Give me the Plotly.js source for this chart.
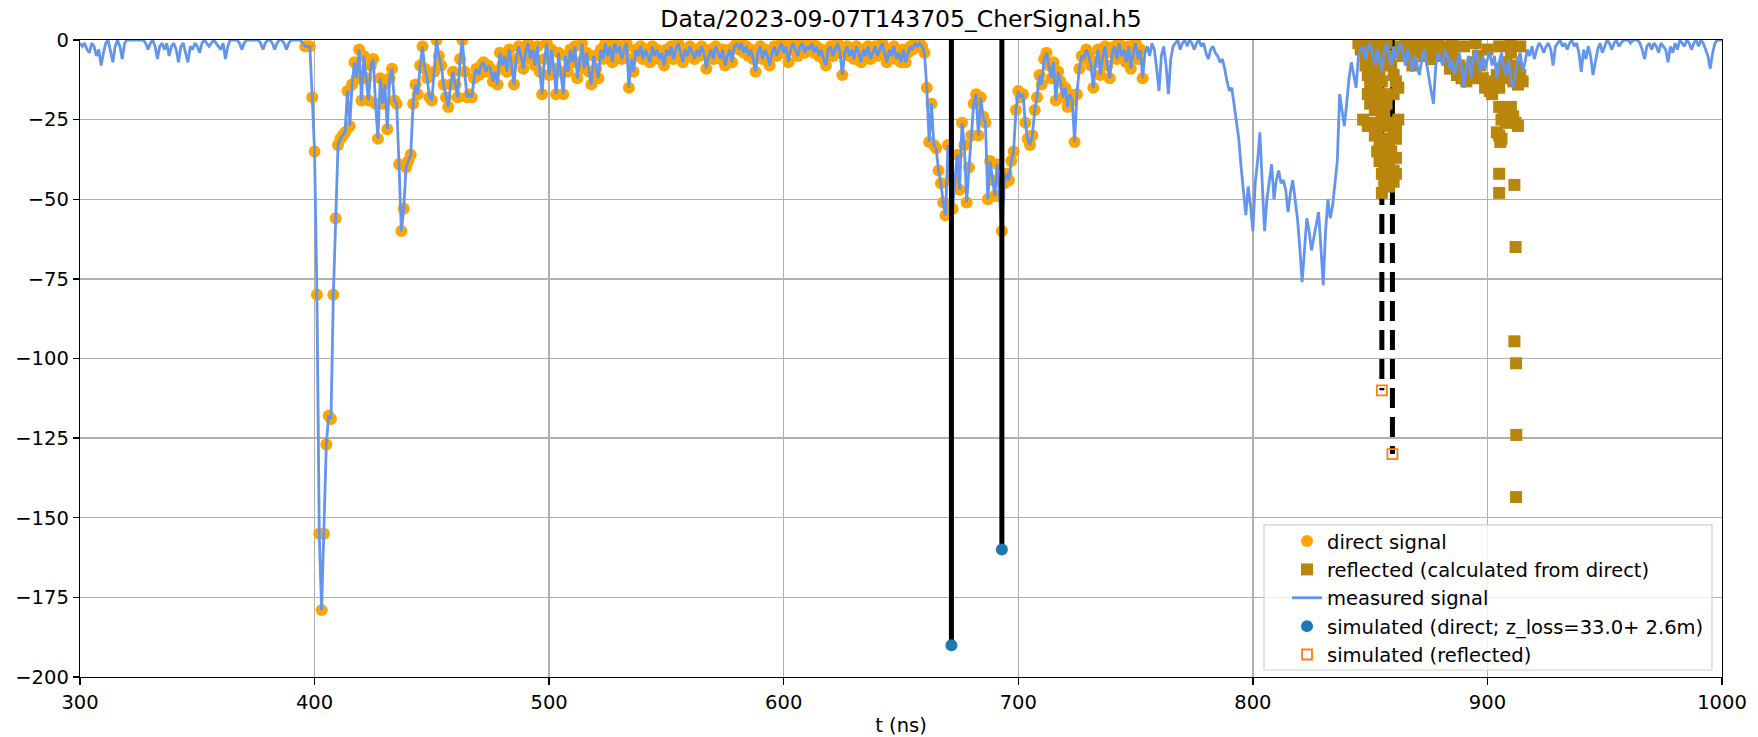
<!DOCTYPE html>
<html>
<head>
<meta charset="utf-8">
<script src="https://cdn.plot.ly/plotly-3.0.1.min.js"></script>
<style>
html,body{margin:0;padding:0;background:#fff;}
#chart{width:1758px;height:737px;}
</style>
</head>
<body>
<div id="chart"></div>
<script>
// ---------------- DATA ----------------
const chartTitle = "Data/2023-09-07T143705_CherSignal.h5";
const xTitle = "t (ns)";

// measured signal, sampled every 1 ns from 300 ns to 1000 ns
const measuredStart = 300;
const measuredStep = 1;
const measuredValues = [
  -1,-2,-1,-3,-4,-1,-2,-5,-3,-8,        // 300
  -4,-1,0,-3,-7,-2,0,-2,-6,-1,          // 310
  0,0,0,0,0,0,0,0,-1,-3,                // 320
  -1,0,-2,-6,-2,-1,-3,-1,-5,-2,         // 330
  -1,-3,-7,-2,-1,-4,-7,-2,-3,-1,        // 340
  -2,-4,-1,0,-1,-2,-1,0,-1,-2,          // 350
  -3,-1,-6,-2,0,0,0,0,-1,-3,            // 360
  -1,0,0,0,0,0,0,-1,-3,-1,              // 370
  0,0,-1,-3,-1,0,0,-1,-3,-1,            // 380
  0,0,0,0,0,-1,-2,-2,-2,-18,            // 390
  -35,-80,-155,-179,-155,-127,-118,-119,-80,-56, // 400
  -33,-31,-30,-29,-16,-27,-14,-7,-12,-3,         // 410
  -19,-5,-12,-19,-8,-6,-20,-31,-12,-20,          // 420
  -14,-28,-12,-9,-19,-20,-39,-60,-53,-40,        // 430
  -38,-36,-20,-14,-17,-8,-2,-9,-12,-18,          // 440
  -19,-10,0,-5,-8,-14,-18,-21,-14,-10,           // 450
  -14,-18,-6,0,-10,-18,-17,-18,-12,-9,           // 460
  -11,-8,-7,-10,-8,-9,-13,-10,-14,-4,            // 470
  -8,-5,-10,-3,-8,-14,-6,-2,-5,-9,               // 480
  -4,-1,-6,-3,-8,-2,-10,-17,-6,-1,               // 490
  -11,-3,-9,-17,-4,-10,-17,-5,-10,-3,            // 500
  -7,-2,-12,-7,-1,-9,-4,-10,-14,-5,              // 510
  -9,-12,-3,-6,-1,-5,-2,-7,-1,-4,                // 520
  -2,-6,-3,-1,-15,-6,-10,-3,-5,-2,               // 530
  -6,-3,-5,-7,-2,-5,-3,-6,-4,-8,                 // 540
  -3,-5,-2,-6,-3,-1,-4,-7,-3,-5,                 // 550
  -2,-4,-6,-3,-5,-2,-4,-9,-5,-3,                 // 560
  -6,-2,-4,-6,-3,-8,-5,-3,-7,-2,                 // 570
  -1,-3,-1,-4,-2,-5,-3,-6,-10,-4,                // 580
  -2,-6,-3,-5,-8,-4,-2,-5,-3,-1,                 // 590
  -4,-2,-7,-3,-1,-3,-5,-2,-1,-4,                 // 600
  -2,-3,-1,-4,-2,-5,-3,-6,-8,-3,                 // 610
  -2,-5,-3,-1,-4,-11,-4,-2,-5,-3,                // 620
  -6,-2,-4,-7,-3,-5,-2,-6,-4,-2,                 // 630
  -5,-3,-1,-4,-7,-3,-5,-2,-6,-4,                 // 640
  -7,-3,-7,-4,-2,-3,-1,-2,-1,-2,                 // 650
  -4,-15,-32,-20,-33,-34,-41,-45,-51,-55,        // 660
  -33,-44,-53,-44,-36,-47,-26,-33,-51,-40,       // 670
  -30,-20,-17,-30,-18,-24,-26,-50,-38,-44,       // 680
  -49,-39,-49,-60,-45,-42,-44,-38,-35,-22,       // 690
  -16,-18,-17,-26,-31,-33,-30,-22,-18,-11,       // 700
  -14,-6,-4,-8,-12,-7,-19,-10,-13,-18,           // 710
  -15,-21,-17,-19,-32,-17,-9,-5,-6,-3,           // 720
  -5,-8,-15,-7,-3,-11,-5,-2,-8,-12,              // 730
  -4,-2,-6,-1,-5,-3,-7,-2,-9,-4,                 // 740
  -1,-6,-3,-12,-4,-2,-5,-1,-3,-9,                // 750
  -16,-5,-2,-8,-17,-6,-2,-1,0,-3,                // 760
  -1,0,-2,0,-1,-3,-1,0,-2,-1,                    // 770
  -4,-6,-3,-2,-4,-5,-7,-6,-9,-13,                // 780
  -16,-15,-20,-26,-31,-40,-48,-55,-46,-52,       // 790
  -60,-45,-38,-29,-45,-60,-50,-44,-39,-50,       // 800
  -44,-41,-45,-44,-47,-54,-48,-44,-50,-56,       // 810
  -65,-76,-66,-56,-60,-66,-62,-58,-54,-65,       // 820
  -77,-60,-50,-56,-52,-45,-38,-17,-22,-27,       // 830
  -20,-12,-7,-11,-15,-5,-3,-2,-6,-3,             // 840
  -1,-4,-8,-3,-6,-10,-4,-1,-5,-8,                // 850
  -2,-6,-3,-1,-4,-8,-3,-6,-10,-5,                // 860
  -8,-11,-6,-3,-7,-12,-16,-20,-8,-4,             // 870
  -6,-8,-3,-5,-9,-6,-11,-7,-4,-9,                // 880
  -15,-8,-5,-12,-6,-3,-7,-10,-5,-9,              // 890
  -6,-4,-8,-5,-12,-7,-4,-9,-11,-6,               // 900
  -13,-15,-10,-6,-4,-10,-7,-3,-5,-2,             // 910
  -6,-3,-1,-2,-4,-2,-1,-3,-8,-2,                 // 920
  -1,0,-2,-1,-3,-1,0,-2,-1,-4,                   // 930
  -10,-3,-6,-2,-5,-11,-7,-3,-1,-4,               // 940
  -2,0,-1,-3,-1,0,-2,-1,0,0,                     // 950
  0,-1,0,0,0,-1,-3,-6,-2,-1,                     // 960
  -3,-1,-2,-4,-1,-2,-3,-7,-2,-4,                 // 970
  -1,-3,0,-1,-2,0,-1,-3,-1,0,                    // 980
  -2,0,-1,-3,-5,-9,-4,-1,0,0,                    // 990
  0                                              // 1000
];

// the direct signal is the part of the measured signal inside this window (ns)
const directWindow = [396, 753];

// reflected signal (calculated from direct)
const reflectedT = [
  845,846,847,848,849,850,851,852,853,854,855,856,857,
  848,849,850,851,852,853,854,855,856,
  849,850,851,852,853,854,855,856,857,
  847,849,851,853,855,857,859,861,862,
  852,854,856,858,860,861,
  853,855,857,859,861,
  854,856,858,860,
  855,857,859,861,
  856,858,860,
  855,
  860,861,862,860,859,858,
  863,864,865,866,867,868,869,870,871,872,873,874,875,876,877,878,879,880,881,882,
  883,884,885,886,887,888,889,890,891,892,893,894,895,896,897,898,899,900,901,902,
  903,904,905,906,907,908,909,910,911,912,913,914,915,
  866,872,878,885,890,895,900,905,910,914,
  905,907,909,911,912,913,906,910,908,
  904,905,906,905.5,
  905,911.5,905,
  912,911.5,912.2,912.3,912.2
];
const reflectedV = [
  -1,-3,-2,-5,-1,-4,-2,-6,-3,-1,-4,-2,-1,
  -8,-11,-14,-9,-12,-16,-10,-13,-7,
  -17,-20,-18,-22,-19,-21,-17,-23,-20,
  -25,-27,-26,-28,-25,-27,-26,-28,-25,
  -30,-32,-31,-33,-30,-31,
  -35,-34,-36,-35,-37,
  -38,-40,-39,-41,
  -42,-43,-44,-42,
  -45,-46,-44.5,
  -48,
  -11,-13,-15,-17,-8,-5,
  -2,-5,-1,-3,-6,-8,-3,-1,-4,-2,-5,-1,-3,-6,-2,-4,-1,-3,-5,-2,
  -6,-9,-4,-7,-11,-8,-12,-10,-13,-9,-12,-7,-10,-5,-8,-12,-15,-14,-16,-17,
  -13,-11,-15,-9,-12,-7,-10,-4,-13,-8,-14,-11,-13,
  -1,-0.5,-0.5,-1,-2,-1,-3,-2,-1,-2,
  -21,-22,-23,-24,-26,-27,-25,-21,-26,
  -29,-30,-31,-32,
  -42,-45.5,-48,
  -65,-94.6,-101.5,-124,-143.5
];

// simulated direct (z_loss = 33.0 + 2.6 m)
const simDirectT = [671.5, 693];
const simDirectV = [-190, -160];

// simulated reflected
const simReflT = [855, 859.5];
const simReflV = [-110, -130];

// ---------------- BUILD ----------------
const measuredT = measuredValues.map((v, i) => measuredStart + i * measuredStep);
const directT = [], directV = [];
measuredT.forEach((t, i) => {
  if (t >= directWindow[0] && t <= directWindow[1]) { directT.push(t); directV.push(measuredValues[i]); }
});

function stems(ts, vs) {
  const x = [], y = [];
  ts.forEach((t, i) => { x.push(t, t, null); y.push(0, vs[i], null); });
  return {x, y};
}
const sdStem = stems(simDirectT, simDirectV);
const srStem = stems(simReflT, simReflV);

const FONT = "DejaVu Sans, Liberation Sans, sans-serif";
const FS = 19.5;

const traces = [
  { // dashed stems (under squares)
    x: srStem.x, y: srStem.y, mode: 'lines', type: 'scatter',
    line: {color: '#000', width: 5, dash: '20px,9px'},
    showlegend: false, hoverinfo: 'skip'
  },
  {
    x: directT, y: directV, mode: 'markers', type: 'scatter',
    name: 'direct signal', legendrank: 1,
    marker: {color: '#FFA500', size: 12, symbol: 'circle', line: {width: 0}}
  },
  {
    x: reflectedT, y: reflectedV, mode: 'markers', type: 'scatter',
    name: 'reflected (calculated from direct)', legendrank: 2,
    marker: {color: '#B8860B', size: 12, symbol: 'square', line: {width: 0}}
  },
  {
    x: measuredT, y: measuredValues, mode: 'lines', type: 'scatter',
    name: 'measured signal', legendrank: 3,
    line: {color: '#6495ED', width: 2.8}
  },
  { // solid stems
    x: sdStem.x, y: sdStem.y, mode: 'lines', type: 'scatter',
    line: {color: '#000', width: 5},
    showlegend: false, hoverinfo: 'skip'
  },
  {
    x: simDirectT, y: simDirectV, mode: 'markers', type: 'scatter',
    name: 'simulated (direct; z_loss=33.0+ 2.6m)', legendrank: 4,
    marker: {color: '#1f77b4', size: 12, symbol: 'circle'}
  },
  {
    x: simReflT, y: simReflV, mode: 'markers', type: 'scatter',
    name: 'simulated (reflected)', legendrank: 5,
    marker: {color: '#ff7f0e', size: 10, symbol: 'square-open', line: {color: '#ff7f0e', width: 1.8}}
  }
];

// legend frame (matplotlib-style box) in paper coordinates
const plotL = 80, plotR = 1722, plotT = 40.4, plotB = 677;
const px2x = p => (p - plotL) / (plotR - plotL);
const px2y = p => (plotB - p) / (plotB - plotT);

const layout = {
  width: 1758, height: 737,
  paper_bgcolor: '#fff', plot_bgcolor: '#fff',
  margin: {l: 80, r: 36, t: 40, b: 60, pad: 0},
  font: {family: FONT, size: FS, color: '#000'},
  title: {text: chartTitle, font: {family: FONT, size: 23.5, color: '#000'},
          x: 0.5, xref: 'paper', xanchor: 'center', y: 1 - 19/737, yref: 'container', yanchor: 'middle'},
  showlegend: true,
  legend: {
    x: px2x(1287), y: px2y(522), xanchor: 'left', yanchor: 'top',
    bgcolor: 'rgba(0,0,0,0)', borderwidth: 0,
    font: {family: FONT, size: FS, color: '#000'},
    traceorder: 'normal'
  },
  shapes: [{
    type: 'rect', xref: 'paper', yref: 'paper', layer: 'above',
    x0: px2x(1264), x1: px2x(1712), y0: px2y(670), y1: px2y(525),
    fillcolor: 'rgba(255,255,255,0.8)', line: {color: '#d0d0d0', width: 1.2}
  }],
  xaxis: {
    range: [300, 1000], tick0: 300, dtick: 100, tickmode: 'linear',
    showgrid: true, gridcolor: '#b0b0b0', gridwidth: 1.3,
    showline: true, linecolor: '#000', linewidth: 1.3, mirror: true,
    ticks: 'outside', ticklen: 7, tickwidth: 1.3, tickcolor: '#000',
    zeroline: false,
    tickfont: {family: FONT, size: FS, color: '#000'},
    title: {text: xTitle, font: {family: FONT, size: FS, color: '#000'}, standoff: 7}
  },
  yaxis: {
    range: [-200, 0], tick0: -200, dtick: 25, tickmode: 'linear',
    showgrid: true, gridcolor: '#b0b0b0', gridwidth: 1.3,
    showline: true, linecolor: '#000', linewidth: 1.3, mirror: true,
    ticks: 'outside', ticklen: 6, tickwidth: 1.3, tickcolor: '#000',
    zeroline: false,
    tickfont: {family: FONT, size: FS, color: '#000'}
  }
};

Plotly.newPlot('chart', traces, layout, {displayModeBar: false, staticPlot: true});
</script>
</body>
</html>
